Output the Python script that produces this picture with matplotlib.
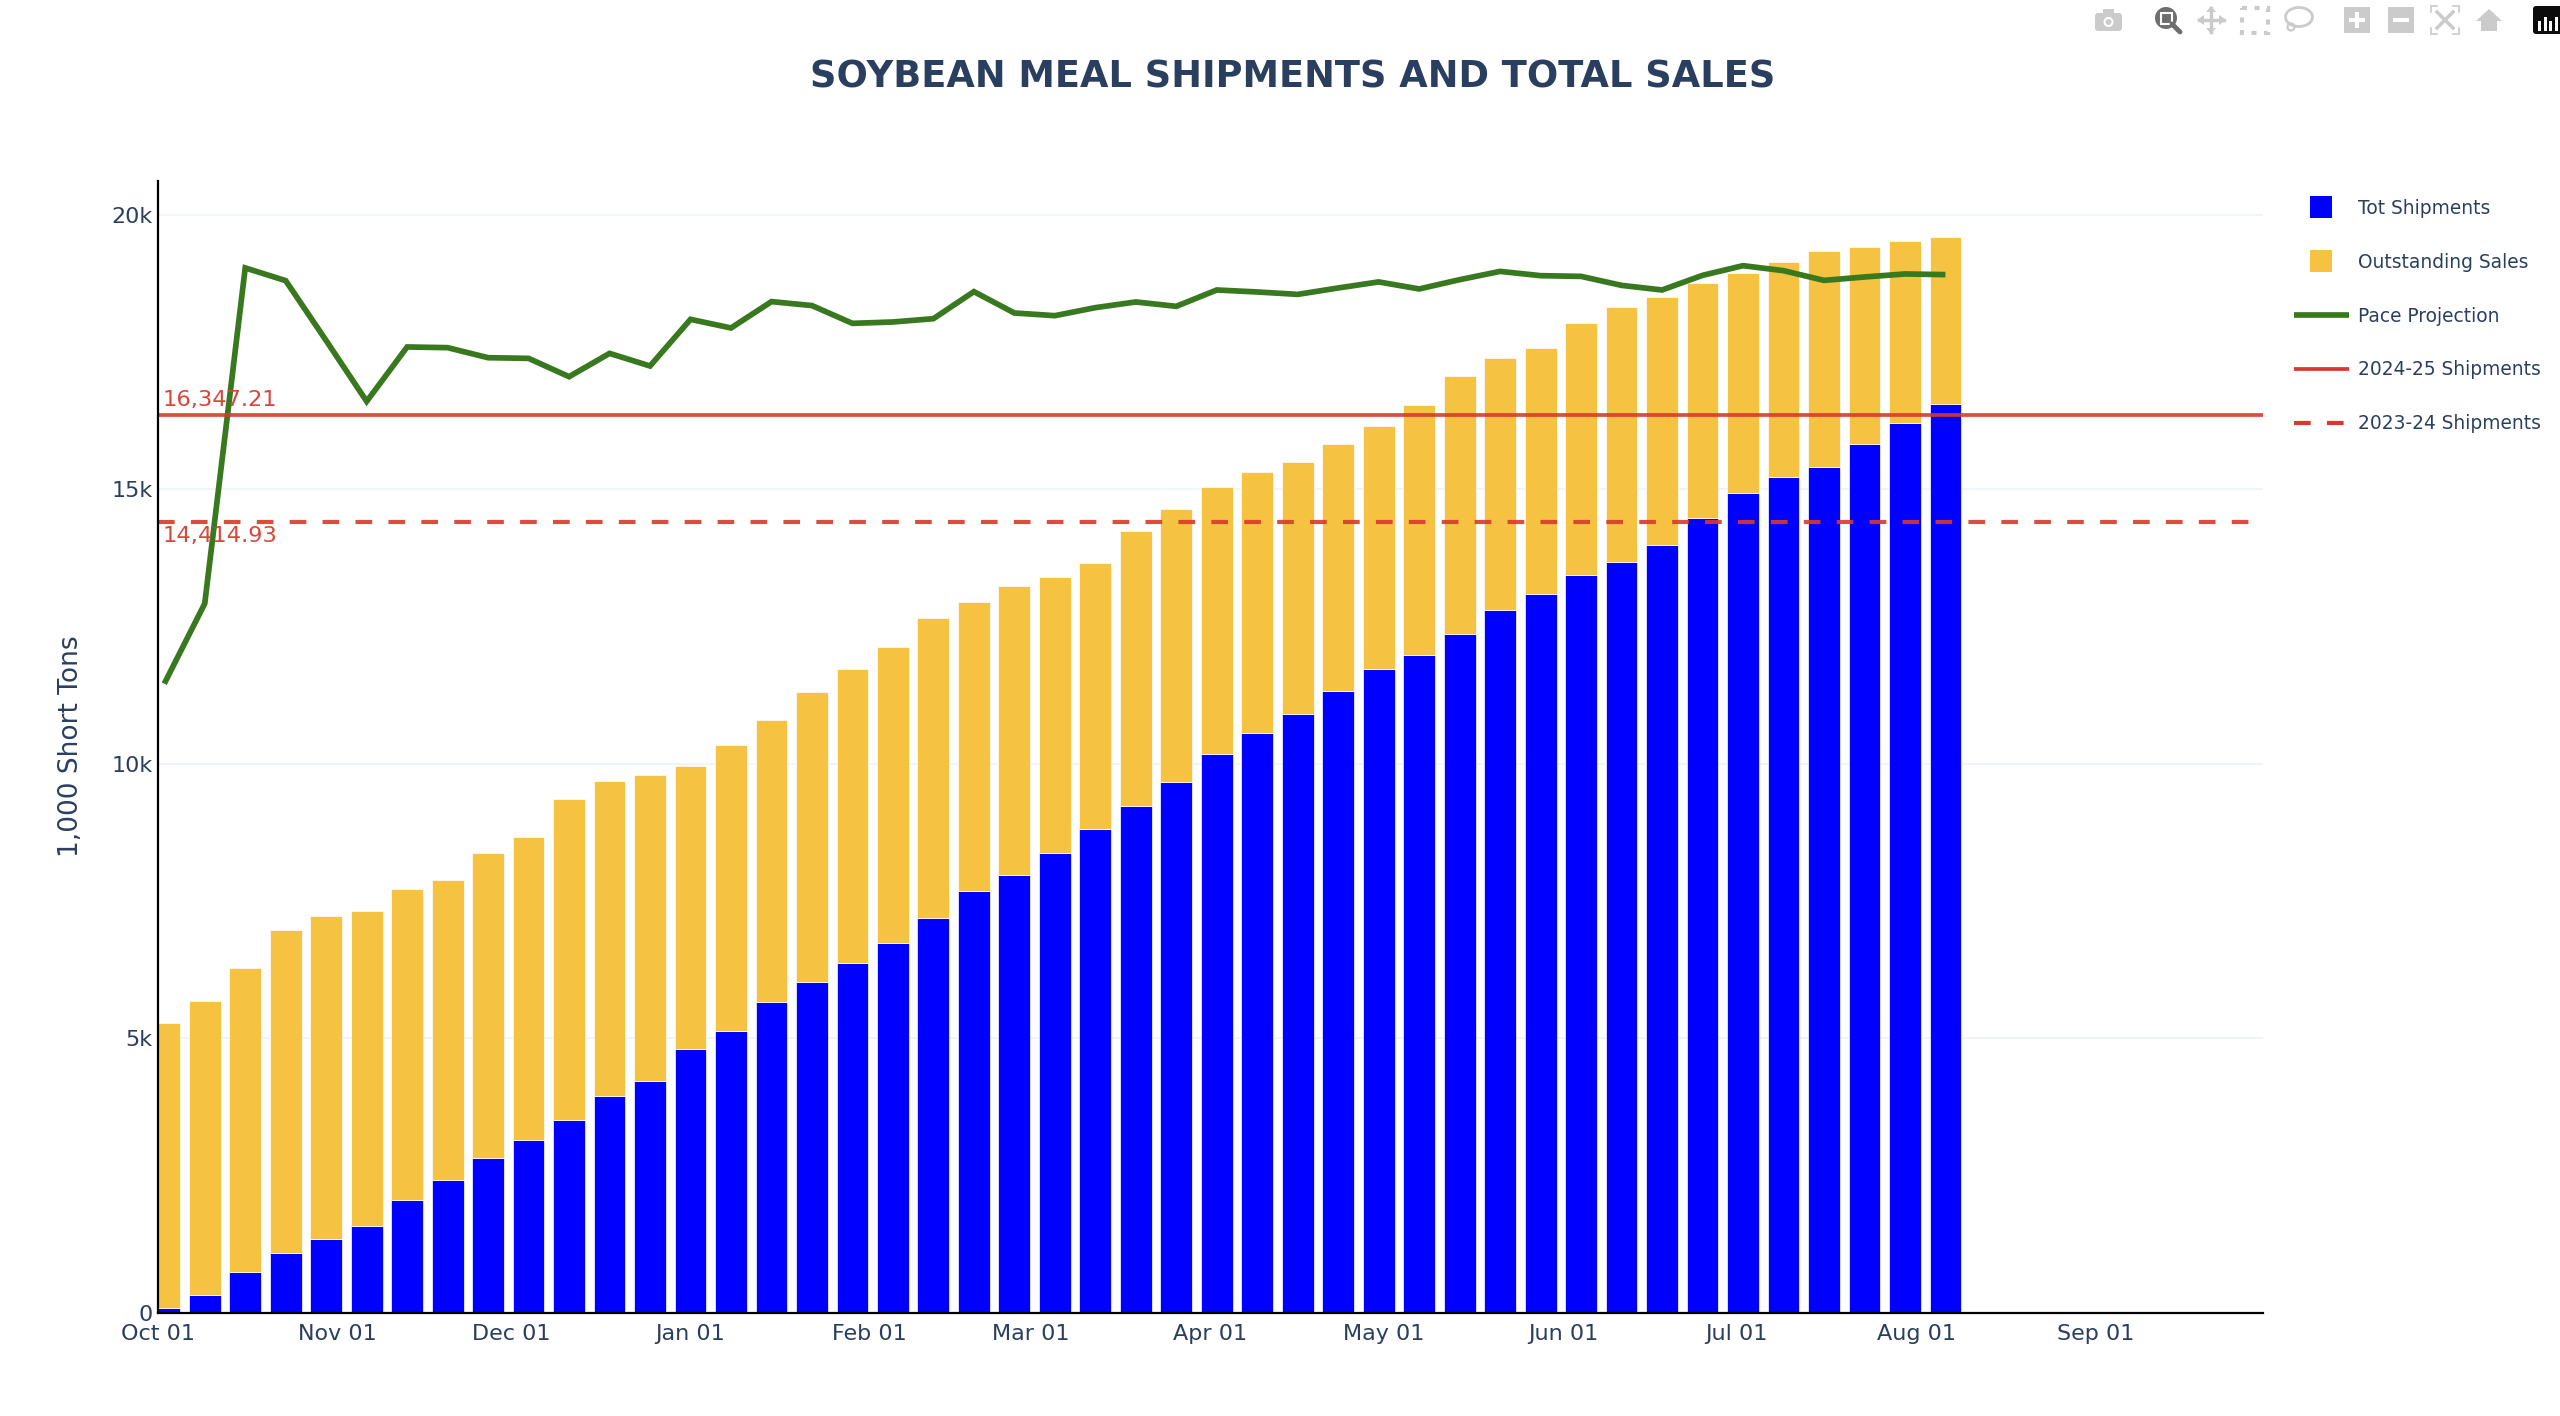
import matplotlib
matplotlib.use("Agg")
import matplotlib.pyplot as plt
import pandas as pd
from matplotlib.lines import Line2D
from matplotlib.patches import Rectangle, FancyBboxPatch, Circle, Polygon, Ellipse

plt.rcParams['font.family'] = ['DejaVu Sans']

W, H = 2560, 1416

weeks = ["2024-10-02","2024-10-09","2024-10-16","2024-10-23","2024-10-30",
         "2024-11-06","2024-11-13","2024-11-20","2024-11-27",
         "2024-12-04","2024-12-11","2024-12-18","2024-12-25",
         "2025-01-01","2025-01-08","2025-01-15","2025-01-22","2025-01-29",
         "2025-02-05","2025-02-12","2025-02-19","2025-02-26",
         "2025-03-05","2025-03-12","2025-03-19","2025-03-26",
         "2025-04-02","2025-04-09","2025-04-16","2025-04-23","2025-04-30",
         "2025-05-07","2025-05-14","2025-05-21","2025-05-28",
         "2025-06-04","2025-06-11","2025-06-18","2025-06-25",
         "2025-07-02","2025-07-09","2025-07-16","2025-07-23","2025-07-30",
         "2025-08-06"]

tot_shipments = [84,315,735,1086,1347,1584,2047,2417,2818,3152,3516,3948,4227,
                 4799,5133,5667,6032,6367,6732,7187,7685,7982,8383,8815,9234,9677,
                 10177,10560,10911,11325,11726,11974,12357,12794,13086,13439,13682,
                 13986,14471,14940,15219,15408,15820,16203,16549]

total_sales = [5270,5672,6273,6966,7221,7318,7719,7890,8369,8666,9354,9682,9797,
               9968,10351,10799,11317,11729,12130,12648,12945,13231,13413,13661,14234,14640,
               15041,15309,15496,15825,16158,16541,17059,17392,17575,18030,18322,
               18504,18759,18942,19142,19337,19410,19525,19592]

pace_projection = [11460,12920,19036,18804,17711,16604,17596,17583,17400,17388,17054,17479,17249,
                   18099,17942,18422,18350,18026,18051,18111,18604,18215,18166,18312,18416,18336,
                   18634,18598,18554,18671,18781,18653,18822,18973,18895,18882,18718,18634,
                   18901,19077,18986,18809,18871,18926,18914]

shipments_2425 = 16347.21
shipments_2324 = 14414.93

y_ticks = [0, 5000, 10000, 15000, 20000]
y_labels = ["0", "5k", "10k", "15k", "20k"]
x_ticks = ["2024-10-01","2024-11-01","2024-12-01","2025-01-01","2025-02-01","2025-03-01",
           "2025-04-01","2025-05-01","2025-06-01","2025-07-01","2025-08-01","2025-09-01"]
x_labels = ["Oct 01","Nov 01","Dec 01","Jan 01","Feb 01","Mar 01",
            "Apr 01","May 01","Jun 01","Jul 01","Aug 01","Sep 01"]

BLUE, YELLOW, GREEN, RED = "#0000FF", "#F5C242", "#38791F", "#D63A2C"
RED_TEXT = "#D8453A"
TEXT = "#2A3F5F"

x = pd.to_datetime(weeks) + pd.Timedelta(hours=2)
outstanding = [t - s for t, s in zip(total_sales, tot_shipments)]

fig = plt.figure(figsize=(W/100, H/100), dpi=100, facecolor="white")
L, R, T, B = 158, 2263, 181, 1312.6
ax = fig.add_axes([L/W, 1-B/H, (R-L)/W, (B-T)/H])

ax.bar(x, tot_shipments, width=5.5, color=BLUE, edgecolor="white", linewidth=0.5, zorder=2)
ax.bar(x, outstanding, bottom=tot_shipments, width=5.5, color=YELLOW, edgecolor="white", linewidth=0.5, zorder=2)
ax.plot(x, pace_projection, color=GREEN, lw=4.1, solid_joinstyle="miter", solid_capstyle="butt", zorder=3)
ax.axhline(shipments_2425, color=RED, lw=2.7, alpha=0.9, zorder=4)
ax.axhline(shipments_2324, color=RED, lw=3.0, alpha=0.9, dashes=(4.0, 3.9), dash_capstyle="butt", zorder=4)

ax.set_xlim(pd.Timestamp("2024-10-01"), pd.Timestamp("2025-09-30"))
ax.set_ylim(0, 20620)
ax.set_yticks(y_ticks, y_labels)
ax.set_xticks(pd.to_datetime(x_ticks), x_labels)
ax.tick_params(axis="both", length=0, labelsize=16, labelcolor=TEXT)
ax.tick_params(axis="y", pad=4)
ax.tick_params(axis="x", pad=8)
ax.yaxis.grid(True, color="#EEF1F6", lw=1.2, zorder=0)
ax.set_axisbelow(True)
for s in ("top", "right"):
    ax.spines[s].set_visible(False)
for s in ("left", "bottom"):
    ax.spines[s].set_color("black")
    ax.spines[s].set_linewidth(1.6)
    ax.spines[s].set_zorder(6)

ax.annotate(f"{shipments_2425:,.2f}", xy=(0, shipments_2425), xycoords=("axes fraction", "data"),
            xytext=(3, 4), textcoords="offset points", color=RED_TEXT, fontsize=16.2, va="bottom", ha="left", zorder=5)
ax.annotate(f"{shipments_2324:,.2f}", xy=(0, shipments_2324), xycoords=("axes fraction", "data"),
            xytext=(3, -3), textcoords="offset points", color=RED_TEXT, fontsize=16.2, va="top", ha="left", zorder=5)

fig.text(71/W, 1-746/H, "1,000 Short Tons", rotation=90, ha="center", va="center", fontsize=19, color=TEXT)
fig.text(1293/W, 1-77/H, "SOYBEAN MEAL SHIPMENTS AND TOTAL SALES", ha="center", va="center",
         fontsize=26.5, fontweight="bold", color=TEXT)

handles = [
    Line2D([], [], ls="none", marker="s", ms=15.5, color=BLUE, markeredgewidth=0),
    Line2D([], [], ls="none", marker="s", ms=15.5, color=YELLOW, markeredgewidth=0),
    Line2D([], [], color=GREEN, lw=4.1, solid_capstyle="butt"),
    Line2D([], [], color=RED, lw=2.7, solid_capstyle="butt"),
    Line2D([], [], color=RED, lw=3.0, dashes=(4.0, 3.9), dash_capstyle="butt"),
]
labels = ["Tot Shipments", "Outstanding Sales", "Pace Projection", "2024-25 Shipments", "2023-24 Shipments"]
fig.legend(handles, labels, loc="upper left", bbox_to_anchor=(2294/W, 1-199/H), frameon=False,
           fontsize=13.4, labelcolor=TEXT, handlelength=2.95, handletextpad=0.48,
           labelspacing=1.87, borderpad=0, borderaxespad=0)

# Toolbar icons in the top right corner
ov = fig.add_axes([0, 0, 1, 1], zorder=10)
ov.set_xlim(0, W); ov.set_ylim(H, 0); ov.axis("off"); ov.patch.set_alpha(0)
G, D = "#CBCBCB", "#6E6E6E"
# camera
ov.add_patch(FancyBboxPatch((2095, 13), 27, 18, boxstyle="round,pad=0,rounding_size=3", fc=G, ec="none"))
ov.add_patch(Rectangle((2103, 9), 11, 5, fc=G, ec="none"))
ov.add_patch(Circle((2108.5, 22), 5, fc="white", ec="none"))
ov.add_patch(Circle((2108.5, 22), 3, fc=G, ec="none"))
# zoom
ov.plot([2172, 2180], [24, 32], color=D, lw=3.5, solid_capstyle="round")
ov.add_patch(Circle((2166, 18), 11, fc=D, ec="none"))
ov.add_patch(Rectangle((2160.5, 12.5), 11, 11, fc=D, ec="white", lw=1.5))
# pan
ov.plot([2199, 2224], [20, 20], color=G, lw=2.5)
ov.plot([2211, 2211], [8, 32], color=G, lw=2.5)
for pts in ([(2197, 20), (2204, 15), (2204, 25)], [(2226, 20), (2219, 15), (2219, 25)],
            [(2211, 6), (2206, 12), (2216, 12)], [(2211, 34), (2206, 28), (2216, 28)]):
    ov.add_patch(Polygon(pts, fc=G, ec="none"))
# box select
ov.add_patch(Rectangle((2242, 8), 26, 25, fc="none", ec=G, lw=3, ls=(0, (1.2, 1.8))))
# lasso
ov.add_patch(Ellipse((2299, 17), 27, 19, fc="none", ec=G, lw=2))
ov.add_patch(Circle((2291, 27), 3.5, fc="none", ec=G, lw=1.6))
# plus, minus
ov.add_patch(Rectangle((2344, 7), 26, 26, fc=G, ec="none"))
ov.add_patch(Rectangle((2349, 18), 16, 4, fc="white", ec="none"))
ov.add_patch(Rectangle((2355, 12), 4, 16, fc="white", ec="none"))
ov.add_patch(Rectangle((2388, 7), 26, 26, fc=G, ec="none"))
ov.add_patch(Rectangle((2393, 18), 16, 4, fc="white", ec="none"))
# autoscale
for a, b in (((2431, 12), (2431, 6)), ((2431, 6), (2437, 6)), ((2459, 6), (2453, 6)), ((2459, 6), (2459, 12)),
             ((2431, 28), (2431, 34)), ((2431, 34), (2437, 34)), ((2459, 34), (2453, 34)), ((2459, 34), (2459, 28))):
    ov.plot([a[0], b[0]], [a[1], b[1]], color=G, lw=1.2)
ov.plot([2437, 2453], [12, 28], color=G, lw=2.5)
ov.plot([2437, 2453], [28, 12], color=G, lw=2.5)
# home
ov.add_patch(Polygon([(2476, 21), (2489, 9), (2502, 21)], fc=G, ec="none"))
ov.add_patch(Rectangle((2481, 21), 16, 10, fc=G, ec="none"))
# logo
ov.add_patch(FancyBboxPatch((2533, 6), 30, 28, boxstyle="round,pad=0,rounding_size=3", fc="#0B0B0B", ec="none"))
for i, h in enumerate((10, 14, 10, 14)):
    ov.add_patch(Rectangle((2538 + i*5.5, 31 - h), 3, h, fc="white", ec="none"))

fig.savefig("out.png", dpi=100, facecolor="white")
